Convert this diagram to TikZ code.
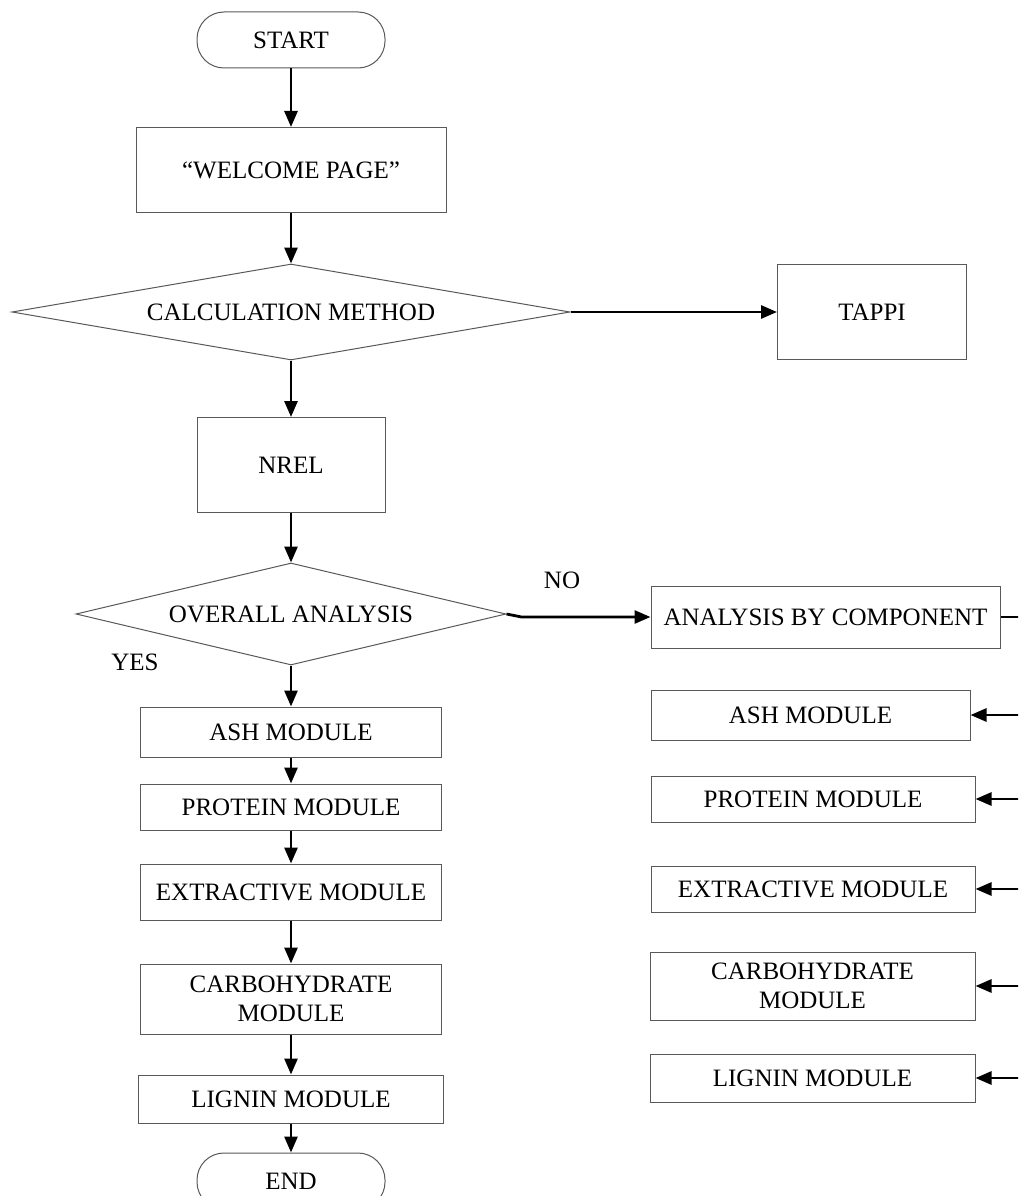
\documentclass[tikz,border=0pt]{standalone}
\usepackage{fontspec}
\setmainfont{Liberation Serif}
\usetikzlibrary{shapes.geometric,arrows.meta}
\begin{document}
\begin{tikzpicture}[x=1pt,y=-1pt,
  every node/.style={font=\fontsize{25}{29.5}\selectfont, align=center},
  box/.style={draw=black!65, line width=1pt, rectangle, inner sep=0pt},
  term/.style={draw=black!65, line width=1pt, rectangle, rounded corners=27pt, minimum width=188pt, minimum height=56pt, inner sep=0pt},
  dec/.style={draw=black!65, line width=1pt, diamond, inner sep=0pt},
  arr/.style={line width=2.8pt, -{Triangle[length=16pt,width=13pt]}},
  ln/.style={line width=2.8pt}]
\clip (0,0) rectangle (1018,1196);
\fill[white] (0,0) rectangle (1018,1196);

\node[term] (start) at (291,40) {START};
\node[box, minimum width=310pt, minimum height=85pt] (welcome) at (291,170) {``WELCOME PAGE''};
\node[dec, aspect=5.81, minimum width=558pt, minimum height=96pt] (calc) at (291,312) {CALCULATION METHOD};
\node[box, minimum width=189pt, minimum height=95pt] (tappi) at (872,312) {TAPPI};
\node[box, minimum width=188pt, minimum height=95pt] (nrel) at (291,465) {NREL};
\node[dec, aspect=4.2, minimum width=430pt, minimum height=102pt] (overall) at (291,614) {OVERALL ANALYSIS};
\node[box, minimum width=349pt, minimum height=62pt] (abc) at (825.5,617) {ANALYSIS BY COMPONENT};

\node (no) at (562,580) {NO};
\node (yes) at (135,662) {YES};

% left column
\node[box, minimum width=301pt, minimum height=50pt] (lash) at (291,732) {ASH MODULE};
\node[box, minimum width=301pt, minimum height=46pt] (lprot) at (291,807) {PROTEIN MODULE};
\node[box, minimum width=301pt, minimum height=56pt] (lext) at (291,892) {EXTRACTIVE MODULE};
\node[box, minimum width=301pt, minimum height=70pt] (lcarb) at (291,999) {CARBOHYDRATE\\MODULE};
\node[box, minimum width=305pt, minimum height=48pt] (llig) at (291,1099) {LIGNIN MODULE};
\node[term] (end) at (291,1181) {END};

% right column
\node[box, minimum width=319pt, minimum height=50pt] (rash) at (810.5,715) {ASH MODULE};
\node[box, minimum width=324pt, minimum height=46pt] (rprot) at (813,799) {PROTEIN MODULE};
\node[box, minimum width=324pt, minimum height=46pt] (rext) at (813,889) {EXTRACTIVE MODULE};
\node[box, minimum width=325pt, minimum height=68pt] (rcarb) at (812.5,986) {CARBOHYDRATE\\MODULE};
\node[box, minimum width=325pt, minimum height=48pt] (rlig) at (812.5,1078) {LIGNIN MODULE};

\coordinate (e0) at (1022,617);
\coordinate (e1) at (1022,715);
\coordinate (e2) at (1022,799);
\coordinate (e3) at (1022,889);
\coordinate (e4) at (1022,986);
\coordinate (e5) at (1022,1078);

% connectors
\draw[arr] (start) -- (welcome);
\draw[arr] (welcome) -- (calc);
\draw[arr] (calc.east) -- (tappi);
\draw[arr] (calc) -- (nrel);
\draw[arr] (nrel) -- (overall);
\draw[arr] (overall.east) -- ++(15,3) -- (abc.west);
\draw[arr] (overall) -- (lash);
\draw[arr] (lash) -- (lprot);
\draw[arr] (lprot) -- (lext);
\draw[arr] (lext) -- (lcarb);
\draw[arr] (lcarb) -- (llig);
\draw[arr] (llig) -- (end);

\draw[ln] (abc.east) -- (e0);
\draw[arr] (e1) -- (rash.east);
\draw[arr] (e2) -- (rprot.east);
\draw[arr] (e3) -- (rext.east);
\draw[arr] (e4) -- (rcarb.east);
\draw[arr] (e5) -- (rlig.east);
\end{tikzpicture}
\end{document}
